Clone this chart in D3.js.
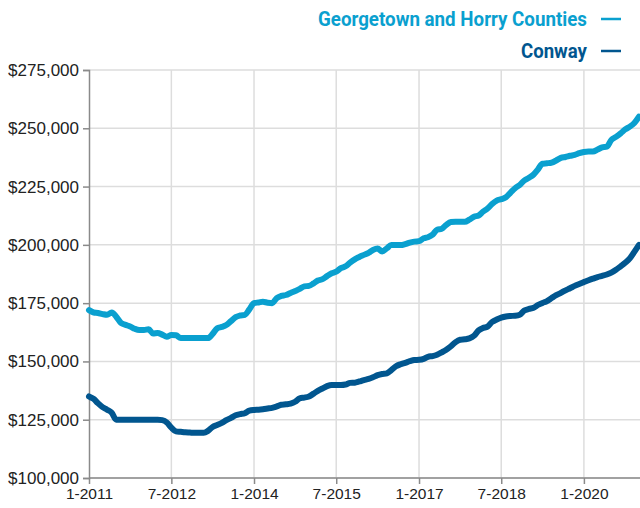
<!DOCTYPE html>
<html>
<head>
<meta charset="utf-8">
<script src="https://cdn.jsdelivr.net/npm/d3@7"></script>
<style>
	body { margin: 0; background: #fff; }
	svg { display: block; }
</style>
</head>
<body>
<svg id="chart"></svg>
<script>
// monthly values, Jan 2011 .. Jan 2021
const georgetownHorry = [
	172000, 171000, 170800, 170300, 170000, 171000, 169200, 166500, 165700, 165000,
	164000, 163500, 163500, 163800, 162000, 162200, 161500, 160600, 161300, 161200,
	160000, 160000, 160000, 160000, 160000, 160000, 160000, 161800, 164200, 164800,
	165600, 167300, 169000, 169700, 170000, 172300, 175000, 175300, 175600, 175200,
	175000, 177200, 178100, 178500, 179400, 180200, 181100, 182200, 182400, 183500,
	184700, 185300, 186600, 187800, 188500, 190000, 190800, 192400, 193800, 194800,
	195700, 196600, 197800, 198400, 197200, 198500, 199900, 199900, 199900, 200300,
	201000, 201400, 201600, 202800, 203300, 204400, 206500, 206900, 208600, 209800,
	209900, 209900, 209900, 210800, 212100, 212600, 214200, 215600, 217500, 219000,
	219600, 220400, 222400, 224300, 225700, 227600, 228800, 230200, 232300, 234800,
	235000, 235300, 236200, 237300, 237700, 238200, 238600, 239300, 239800, 240000,
	240000, 240900, 241800, 242100, 245000, 246300, 247800, 249500, 250700, 252300,
	255000
];

const conway = [
	135000, 133900, 132100, 130400, 129300, 128000, 125000, 125000, 125000, 125000,
	125000, 125000, 125000, 125000, 125000, 125000, 124800, 123800, 121600, 120000,
	119800, 119600, 119500, 119400, 119400, 119400, 120200, 121900, 122700, 123600,
	124800, 125800, 126900, 127400, 127800, 128900, 129200, 129300, 129500, 129800,
	130100, 130700, 131400, 131600, 131900, 132700, 134200, 134500, 135000, 136200,
	137400, 138400, 139400, 139900, 139900, 139900, 140100, 140800, 140900, 141400,
	142000, 142500, 143200, 144100, 144600, 144900, 146300, 147900, 148800, 149400,
	150100, 150600, 150700, 151100, 152000, 152300, 152900, 153900, 155000, 156500,
	158300, 159300, 159500, 159900, 161000, 163300, 164300, 164900, 166900, 168000,
	168800, 169300, 169500, 169600, 170000, 171800, 172500, 173000, 174200, 175100,
	175900, 177200, 178400, 179400, 180500, 181400, 182400, 183200, 184000, 184800,
	185500, 186200, 186700, 187300, 188100, 189300, 190800, 192300, 194200, 197000,
	200000
];

const yTicks = [100000, 125000, 150000, 175000, 200000, 225000, 250000, 275000];
const xTickLabels = ["1-2011", "7-2012", "1-2014", "7-2015", "1-2017", "7-2018", "1-2020"];

const seriesNames = ["Georgetown and Horry Counties", "Conway"];
const seriesColors = ["#0aa0cf", "#01568f"];
const legendWidths = [269, 66];

const margin = { top: 70, right: 1, bottom: 30, left: 89 };
const width = 640 - margin.left - margin.right;
const height = 478 - margin.top;

const parseMonth = d3.timeParse("%m-%Y");
const startMonth = parseMonth("01-2011");
const months = d3.range(georgetownHorry.length).map(i => d3.timeMonth.offset(startMonth, i));
const xTicks = xTickLabels.map(d => parseMonth(d.length === 6 ? "0" + d : d));

function draw() {
	let svg = d3.select("#chart")
		.attr("width", 640)
		.attr("height", 508);

	let x = d3.scaleTime()
		.domain([startMonth, months[months.length - 1]])
		.range([margin.left, margin.left + width]);

	let y = d3.scaleLinear()
		.domain([100000, 275000])
		.range([margin.top + height, margin.top]);

	// grid
	svg.append("g")
		.selectAll("line")
		.data(yTicks)
		.join("line")
		.attr("x1", margin.left)
		.attr("x2", 640)
		.attr("y1", d => y(d))
		.attr("y2", d => y(d))
		.attr("stroke", "#dddddd")
		.attr("stroke-width", 1.5);

	svg.append("g")
		.selectAll("line")
		.data(xTicks.slice(1))
		.join("line")
		.attr("x1", d => x(d))
		.attr("x2", d => x(d))
		.attr("y1", margin.top)
		.attr("y2", margin.top + height)
		.attr("stroke", "#dddddd")
		.attr("stroke-width", 1.5);

	// y axis
	let yAxis = svg.append("g")
		.attr("transform", "translate(" + margin.left + ",0)")
		.call(d3.axisLeft(y).tickValues(yTicks).tickSize(6).tickPadding(4)
			.tickFormat(d => "$" + d3.format(",")(d)));
	yAxis.select(".domain").attr("stroke", "#8a8a8a").attr("stroke-width", 1.5);
	yAxis.selectAll(".tick line").attr("stroke", "#8a8a8a").attr("stroke-width", 1.5);
	yAxis.selectAll(".tick text")
		.attr("font-family", "'Liberation Sans', Arial, sans-serif")
		.attr("font-size", 17)
		.attr("fill", "#222");

	// x axis
	let xAxis = svg.append("g")
		.attr("transform", "translate(0," + (margin.top + height) + ")")
		.call(d3.axisBottom(x).tickValues(xTicks).tickSize(6).tickPadding(4)
			.tickFormat(d3.timeFormat("%-m-%Y")));
	xAxis.select(".domain").attr("stroke", "#8a8a8a").attr("stroke-width", 1.5)
		.attr("d", "M" + margin.left + ",0H640");
	xAxis.selectAll(".tick line").attr("stroke", "#8a8a8a").attr("stroke-width", 1.5);
	xAxis.selectAll(".tick text")
		.attr("font-family", "'Liberation Sans', Arial, sans-serif")
		.attr("font-size", 15.5)
		.attr("fill", "#222");

	// lines
	let line = d3.line()
		.x((d, i) => x(months[i]))
		.y(d => y(d))
		.curve(d3.curveMonotoneX);

	[georgetownHorry, conway].forEach((s, i) => {
		svg.append("path")
			.datum(s)
			.attr("fill", "none")
			.attr("stroke", seriesColors[i])
			.attr("stroke-width", 6)
			.attr("stroke-linejoin", "round")
			.attr("stroke-linecap", "round")
			.attr("d", line);
	});

	// legend
	let legend = svg.append("g")
		.selectAll("g")
		.data(seriesNames)
		.join("g")
		.attr("transform", (d, i) => "translate(0," + (i * 32) + ")");

	legend.append("text")
		.attr("x", 587)
		.attr("y", 26)
		.attr("text-anchor", "end")
		.attr("font-family", "Roboto, 'DejaVu Sans', sans-serif")
		.attr("font-weight", "bold")
		.attr("font-size", 20)
		.attr("textLength", (d, i) => legendWidths[i])
		.attr("lengthAdjust", "spacingAndGlyphs")
		.attr("fill", (d, i) => seriesColors[i])
		.text(d => d);

	legend.append("line")
		.attr("x1", 601)
		.attr("x2", 621)
		.attr("y1", 19)
		.attr("y2", 19)
		.attr("stroke", (d, i) => seriesColors[i])
		.attr("stroke-width", 2.5);
}

draw();
</script>
</body>
</html>
